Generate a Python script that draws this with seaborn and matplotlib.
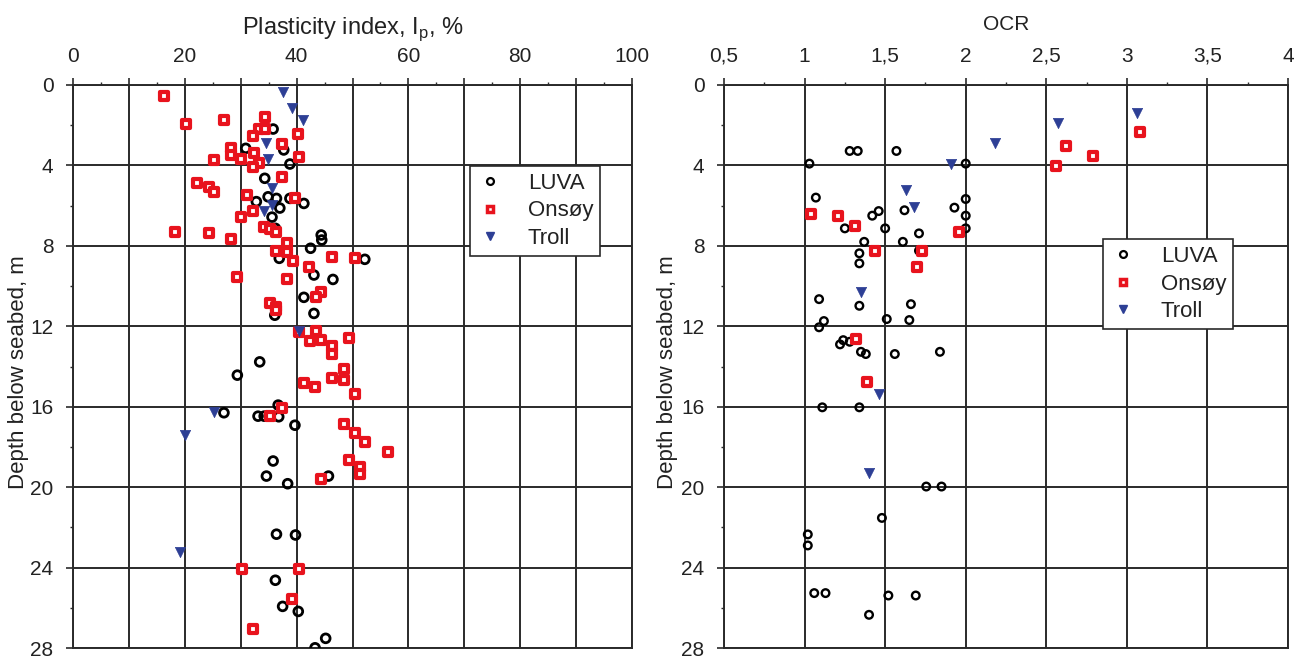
import numpy as np
import pandas as pd
import matplotlib
matplotlib.use("Agg")
import matplotlib.pyplot as plt
import seaborn as sns
from matplotlib.ticker import MultipleLocator, FuncFormatter
from matplotlib.lines import Line2D

# ---------------- data: plasticity index (left panel) ----------------
luva_ip = [35.8, 30.9, 37.7, 38.8, 34.3, 34.9, 36.4, 38.8, 32.8, 41.3, 37.0, 35.6, 36.2,
           44.4, 44.5, 42.5, 36.9, 52.2, 43.1, 46.5, 41.3, 43.1, 36.1, 33.4, 29.4, 36.7,
           27.0, 33.1, 34.2, 36.8, 39.7, 35.8, 34.6, 45.7, 38.4, 36.4, 39.8, 36.2, 37.5,
           40.3, 45.2, 43.3]
luva_ip_depth = [2.19, 3.15, 3.23, 3.93, 4.64, 5.56, 5.64, 5.64, 5.8, 5.89, 6.12, 6.57, 7.13,
                 7.46, 7.71, 8.12, 8.62, 8.67, 9.45, 9.67, 10.56, 11.36, 11.45, 13.77, 14.43, 15.92,
                 16.3, 16.47, 16.47, 16.5, 16.92, 18.7, 19.45, 19.45, 19.83, 22.34, 22.38, 24.63, 25.93,
                 26.18, 27.52, 27.99]

onsoy_ip = [16.2, 20.2, 27.1, 34.3, 33.2, 34.4, 32.2, 40.3, 37.3, 28.2, 28.2, 32.3, 30.1,
            25.2, 33.3, 32.2, 40.4, 37.3, 22.2, 24.3, 25.2, 31.2, 39.7, 32.2, 30.1, 34.2,
            35.3, 36.3, 18.3, 24.3, 28.2, 38.2, 36.3, 38.2, 46.3, 50.4, 39.4, 42.3, 29.4,
            38.2, 44.3, 43.4, 35.3, 36.3, 36.3, 40.4, 43.4, 42.4, 44.3, 49.3, 46.4, 46.4,
            48.4, 46.4, 48.4, 41.3, 43.3, 50.5, 37.4, 35.3, 48.4, 50.5, 52.3, 56.4, 49.3,
            51.4, 51.4, 44.3, 30.2, 40.4, 39.2, 32.2]
onsoy_ip_depth = [0.53, 1.94, 1.74, 1.58, 2.19, 2.19, 2.55, 2.44, 2.95, 3.12, 3.48, 3.37, 3.68,
                  3.75, 3.88, 4.06, 3.58, 4.56, 4.86, 5.06, 5.31, 5.47, 5.64, 6.27, 6.55, 7.05,
                  7.16, 7.3, 7.3, 7.36, 7.68, 7.88, 8.26, 8.32, 8.57, 8.62, 8.76, 9.04, 9.54,
                  9.67, 10.28, 10.56, 10.86, 11.03, 11.19, 12.27, 12.24, 12.74, 12.69, 12.6, 12.99, 13.4,
                  14.11, 14.59, 14.68, 14.84, 15.04, 15.39, 16.05, 16.47, 16.88, 17.3, 17.76, 18.24, 18.67,
                  19.0, 19.33, 19.58, 24.08, 24.08, 25.57, 27.06]

troll_ip = [37.6, 39.2, 41.1, 34.6, 34.9, 35.6, 35.6, 34.1, 40.4, 25.2, 20.1, 19.2]
troll_ip_depth = [0.33, 1.16, 1.74, 2.9, 3.68, 5.11, 5.99, 6.25, 12.24, 16.25, 17.41, 23.25]

# ---------------- data: OCR (right panel) ----------------
luva_ocr = [1.03, 1.28, 1.33, 1.57, 2.0, 1.07, 2.0, 1.93, 2.0, 2.0, 1.46, 1.42, 1.62, 1.25,
            1.5, 1.71, 1.37, 1.61, 1.71, 1.34, 1.34, 1.09, 1.34, 1.66, 1.12, 1.09, 1.51, 1.65,
            1.24, 1.22, 1.28, 1.35, 1.38, 1.56, 1.84, 1.11, 1.34, 1.755, 1.85, 1.48, 1.02, 1.02,
            1.06, 1.13, 1.52, 1.69, 1.40]
luva_ocr_depth = [3.91, 3.28, 3.28, 3.28, 3.91, 5.6, 5.67, 6.1, 6.5, 7.13, 6.27, 6.5, 6.23, 7.13,
                  7.13, 7.38, 7.8, 7.8, 8.24, 8.37, 8.87, 10.65, 10.98, 10.9, 11.74, 12.05, 11.64, 11.69,
                  12.69, 12.9, 12.77, 13.27, 13.38, 13.38, 13.27, 16.03, 16.03, 19.97, 19.97, 21.53, 22.35, 22.9,
                  25.27, 25.27, 25.39, 25.39, 26.35]

onsoy_ocr = [3.08, 2.62, 2.79, 2.56, 1.04, 1.21, 1.31, 1.96, 1.44, 1.73, 1.70, 1.32, 1.39]
onsoy_ocr_depth = [2.32, 3.03, 3.53, 4.03, 6.43, 6.52, 7.01, 7.3, 8.24, 8.24, 9.04, 12.62, 14.76]

troll_ocr = [3.06, 2.57, 2.18, 1.91, 1.63, 1.68, 1.35, 1.46, 1.40]
troll_ocr_depth = [1.38, 1.91, 2.9, 3.95, 5.22, 6.05, 10.3, 15.37, 19.3]

series_names = ["LUVA", "Onsøy", "Troll"]
ip_ticks = [0, 20, 40, 60, 80, 100]
ocr_tick_labels = ["0,5", "1", "1,5", "2", "2,5", "3", "3,5", "4"]
depth_ticks = [0, 4, 8, 12, 16, 20, 24, 28]

# ---------------- style ----------------
sns.set_theme(style="white")
plt.rcParams["font.family"] = ["Liberation Sans", "DejaVu Sans"]
plt.rcParams["mathtext.fontset"] = "custom"
plt.rcParams["mathtext.rm"] = "Liberation Sans"
TXT = "#222222"
GRID = "#2a2a2a"
RED = "#e8131d"
BLUE = "#2d3f95"

fig = plt.figure(figsize=(13.01, 6.56), dpi=100)
axL = fig.add_axes([73 / 1301, 1 - 648 / 656, (632 - 73) / 1301, (648 - 85) / 656])
axR = fig.add_axes([724 / 1301, 1 - 648 / 656, (1288 - 724) / 1301, (648 - 85) / 656])


def draw(ax, xs, ys, circ_s, circ_lw):
    dfl = pd.DataFrame({"x": xs[0], "depth": ys[0]})
    dfo = pd.DataFrame({"x": xs[1], "depth": ys[1]})
    dft = pd.DataFrame({"x": xs[2], "depth": ys[2]})
    sns.scatterplot(data=dfl, x="x", y="depth", ax=ax, marker="o", s=circ_s,
                    color="black", facecolor="none", edgecolor="black",
                    linewidth=circ_lw, zorder=4)
    sns.scatterplot(data=dfo, x="x", y="depth", ax=ax, marker="s", s=26,
                    color=RED, facecolor="white", edgecolor=RED,
                    linewidth=3.0, zorder=5)
    sns.scatterplot(data=dft, x="x", y="depth", ax=ax, marker="v", s=55,
                    color=BLUE, edgecolor=BLUE, linewidth=0.5, zorder=6)


draw(axL, [luva_ip, onsoy_ip, troll_ip],
     [luva_ip_depth, onsoy_ip_depth, troll_ip_depth], 40, 2.0)
draw(axR, [luva_ocr, onsoy_ocr, troll_ocr],
     [luva_ocr_depth, onsoy_ocr_depth, troll_ocr_depth], 30, 1.7)

for ax, lx in ((axL, -0.0787), (axR, -0.0816)):
    ax.set_ylim(28, 0)
    ax.yaxis.set_major_locator(MultipleLocator(4))
    ax.yaxis.set_minor_locator(MultipleLocator(2))
    ax.set_yticks(depth_ticks)
    ax.xaxis.tick_top()
    ax.xaxis.set_label_position("top")
    ax.grid(True, which="major", color=GRID, linewidth=1.4)
    ax.set_axisbelow(True)
    for sp in ax.spines.values():
        sp.set_color(GRID)
        sp.set_linewidth(1.4)
    ax.tick_params(axis="both", which="major", direction="out", length=5, width=1.2,
                   color=GRID, labelsize=15, labelcolor=TXT, pad=9,
                   top=True, bottom=False, left=True, right=False)
    ax.tick_params(axis="both", which="minor", direction="out", length=2.5, width=1.0,
                   color=GRID, top=True, bottom=False, left=True, right=False)
    ax.set_ylabel("Depth below seabed, m", fontsize=16, color=TXT)
    ax.yaxis.set_label_coords(lx, 0.49)

# left x axis
axL.set_xlim(0, 100)
axL.xaxis.set_major_locator(MultipleLocator(10))
axL.xaxis.set_minor_locator(MultipleLocator(5))
axL.xaxis.set_major_formatter(FuncFormatter(
    lambda v, p: f"{int(round(v))}" if int(round(v)) in ip_ticks else ""))
axL.set_xlabel("Plasticity index, I$_\\mathregular{p}$, %", fontsize=17, color=TXT, labelpad=9)

# right x axis
axR.set_xlim(0.5, 4)
axR.xaxis.set_major_locator(MultipleLocator(0.5))
axR.xaxis.set_minor_locator(MultipleLocator(0.25))
axR.xaxis.set_major_formatter(FuncFormatter(
    lambda v, p: ocr_tick_labels[int(round((v - 0.5) / 0.5))]
    if 0 <= int(round((v - 0.5) / 0.5)) < len(ocr_tick_labels) else ""))
axR.set_xlabel("OCR", fontsize=15, color=TXT, labelpad=12)


def legend_handles(sc):
    return [
        Line2D([], [], linestyle="none", marker="o", markersize=5.5 * sc,
               markerfacecolor="none", markeredgecolor="black", markeredgewidth=1.6),
        Line2D([], [], linestyle="none", marker="s", markersize=4.5 * sc,
               markerfacecolor="white", markeredgecolor=RED, markeredgewidth=2.5),
        Line2D([], [], linestyle="none", marker="v", markersize=6.5 * sc,
               markerfacecolor=BLUE, markeredgecolor=BLUE),
    ]


for ax, anchor in ((axL, (0.71, 0.856)), (axR, (0.672, 0.726))):
    leg = ax.legend(handles=legend_handles(0.9), labels=series_names, loc="upper left",
                    bbox_to_anchor=anchor, borderaxespad=0, frameon=True, fancybox=False,
                    fontsize=16, handlelength=1.2, handletextpad=1.1, borderpad=0.3,
                    labelspacing=0.3)
    fr = leg.get_frame()
    fr.set_edgecolor(GRID)
    fr.set_linewidth(1.2)
    fr.set_facecolor("white")
    fr.set_alpha(1)
    leg.set_zorder(10)
    for t in leg.get_texts():
        t.set_color(TXT)

fig.savefig("out.png", dpi=100)
